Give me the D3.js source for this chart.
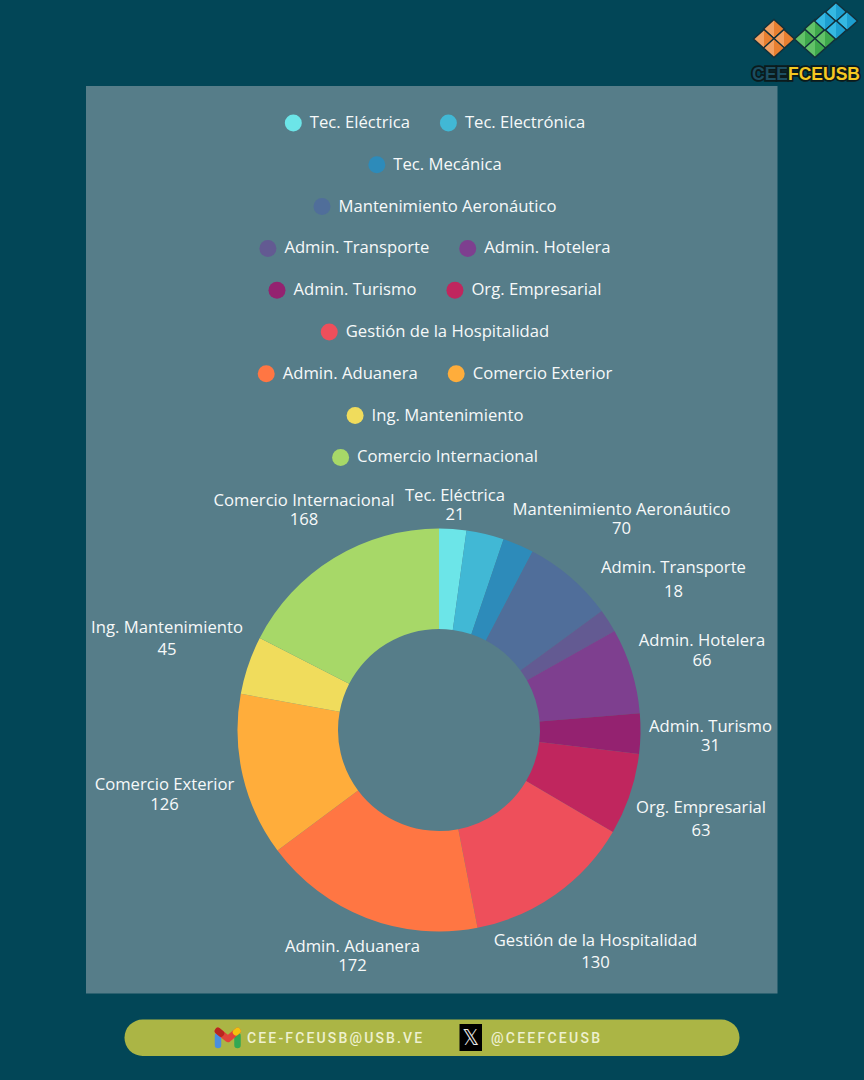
<!DOCTYPE html>
<html>
<head>
<meta charset="utf-8">
<script src="https://cdn.jsdelivr.net/npm/d3@7"></script>
<style>
  html, body { margin: 0; padding: 0; background: #024657; }
  svg { display: block; }
  text { font-family: "Open Sans", sans-serif; }
</style>
</head>
<body>
<div id="chart"></div>
<script>
const categories = ["Tec. Eléctrica", "Tec. Electrónica", "Tec. Mecánica", "Mantenimiento Aeronáutico",
  "Admin. Transporte", "Admin. Hotelera", "Admin. Turismo", "Org. Empresarial",
  "Gestión de la Hospitalidad", "Admin. Aduanera", "Comercio Exterior", "Ing. Mantenimiento", "Comercio Internacional"];
const values = [21, 29, 24, 70, 18, 66, 31, 63, 130, 172, 126, 45, 168];
const colors = ["#6ce5e8", "#41b8d5", "#2d8bba", "#506e9a", "#635a92", "#7e3f8f", "#942270", "#c0265e",
  "#ee4f5b", "#ff7643", "#ffad3b", "#f0dc5c", "#a7d868"];

// which categories share a legend row
const legendRows = [[0, 1], [2], [3], [4, 5], [6, 7], [8], [9, 10], [11], [12]];
// slices without a label in the original
const noLabel = [1, 2];
// label anchor points [x, first line y, second line y]
const labelPlace = {
  0: [455, 495, 514], 3: [621.5, 509, 528], 4: [673.5, 567, 591], 5: [702, 640, 660],
  6: [710.5, 726, 745], 7: [701, 807, 830], 8: [595.5, 940, 962], 9: [352.5, 946, 965],
  10: [164.5, 784, 804], 11: [167, 627, 649], 12: [304, 500, 519]
};

const width = 864;
const height = 1080;
const cx = 439;
const cy = 730;
const fontSize = 16.65;

const svg = d3.select("#chart").append("svg").attr("width", width).attr("height", height);

svg.append("rect").attr("width", width).attr("height", height).attr("fill", "#024657");
svg.append("rect").attr("x", 86).attr("y", 86).attr("width", 691.5).attr("height", 907.5).attr("fill", "#567d89");

// legend
const legendY = d3.scaleLinear().domain([0, 1]).range([123, 164.8]);
legendRows.forEach((row, r) => {
  const g = svg.append("g");
  let x = 0;
  row.forEach((i) => {
    g.append("circle").attr("cx", x + 8.5).attr("cy", legendY(r)).attr("r", 8.5).attr("fill", colors[i]);
    const t = g.append("text").attr("x", x + 25).attr("y", legendY(r) + 5)
      .attr("font-size", fontSize).attr("fill", "#f6f9f9").text(categories[i]);
    x += 25 + t.node().getComputedTextLength() + 30;
  });
  x -= 30;
  g.attr("transform", `translate(${435 - x / 2}, 0)`);
});

// donut
const pie = d3.pie().value((d) => d).sort(null);
const arc = d3.arc().innerRadius(101).outerRadius(201.5);
svg.append("g").attr("transform", `translate(${cx}, ${cy})`)
  .selectAll("path").data(pie(values)).enter().append("path")
  .attr("d", arc).attr("fill", (d, i) => colors[i]);

// slice labels
categories.forEach((c, i) => {
  if (noLabel.includes(i)) return;
  const p = labelPlace[i];
  svg.append("text").attr("x", p[0]).attr("y", p[1] + 5.5).attr("text-anchor", "middle")
    .attr("font-size", fontSize).attr("fill", "#f6f9f9").text(c);
  svg.append("text").attr("x", p[0]).attr("y", p[2] + 5.5).attr("text-anchor", "middle")
    .attr("font-size", fontSize).attr("fill", "#f6f9f9").text(values[i]);
});

// footer bar
svg.append("rect").attr("x", 124.5).attr("y", 1019.5).attr("width", 615).attr("height", 36.5).attr("rx", 18.2)
  .attr("fill", "#abb545");
svg.append("text").attr("x", 247).attr("y", 1043).style("font-family", "Roboto")
  .attr("font-size", 14).attr("font-weight", 500).attr("letter-spacing", 2.15).attr("fill", "#eef0cf").text("CEE-FCEUSB@USB.VE");
svg.append("text").attr("x", 491).attr("y", 1043).style("font-family", "Roboto")
  .attr("font-size", 14).attr("font-weight", 500).attr("letter-spacing", 2.25).attr("fill", "#eef0cf").text("@CEEFCEUSB");

// gmail icon
const gm = svg.append("g").attr("fill", "none").attr("stroke-width", 6.5)
  .attr("stroke-linecap", "round").attr("stroke-linejoin", "round");
gm.append("path").attr("d", "M218 1036 V1045").attr("stroke", "#4a8fe0");
gm.append("path").attr("d", "M237.5 1036 V1045").attr("stroke", "#33a853");
gm.append("path").attr("d", "M218 1031 L228 1039 L237.5 1031").attr("stroke", "#e0443a");
gm.append("path").attr("d", "M218 1031 L221 1033.5").attr("stroke", "#b8261f");
gm.append("path").attr("d", "M237.5 1031 L236 1032.2").attr("stroke", "#f4c20d");

// X icon
svg.append("rect").attr("x", 459.5).attr("y", 1024).attr("width", 22.5).attr("height", 27).attr("fill", "#000");
svg.append("text").attr("x", 470.8).attr("y", 1045).attr("text-anchor", "middle").style("font-family", "'DejaVu Sans'")
  .attr("font-size", 21).attr("fill", "#e8e8e8").text("𝕏");

// logo
const diamond = (x, y, c1, c2) => {
  const dg = svg.append("g").attr("transform", `translate(${x}, ${y})`);
  dg.append("path").attr("d", "M0 -9.5 L0 9.5 L-10.5 0 Z").attr("fill", c1);
  dg.append("path").attr("d", "M0 -9.5 L10.5 0 L0 9.5 Z").attr("fill", c2);
  dg.append("path").attr("d", "M0 -9.5 L10.5 0 L0 9.5 L-10.5 0 Z").attr("fill", "none")
    .attr("stroke", "#12303a").attr("stroke-width", 1.4);
};
const logoCells = [
  [774, 29, "#f2a062", "#e87f30"], [764, 39, "#f2a062", "#e87f30"], [784, 39, "#f2a062", "#e87f30"], [774, 48, "#f2a062", "#e87f30"],
  [815, 29, "#62c268", "#3ea84c"], [805, 39, "#62c268", "#3ea84c"], [825, 39, "#62c268", "#3ea84c"], [815, 48, "#62c268", "#3ea84c"],
  [836, 12, "#35b8e2", "#1d9fd0"], [825, 21, "#35b8e2", "#1d9fd0"], [847, 21, "#35b8e2", "#1d9fd0"], [836, 30, "#35b8e2", "#1d9fd0"]
];
logoCells.forEach((d) => diamond(d[0], d[1], d[2], d[3]));
svg.append("text").attr("x", 752).attr("y", 80).style("font-family", "'Liberation Sans'")
  .attr("font-size", 17.5).attr("font-weight", 700).attr("stroke", "#0b1a1c").attr("stroke-width", 3.5).attr("paint-order", "stroke")
  .attr("fill", "#1c4f62").text("CEE");
svg.append("text").attr("x", 788).attr("y", 80).style("font-family", "'Liberation Sans'")
  .attr("font-size", 17.5).attr("font-weight", 700).attr("stroke", "#0b1a1c").attr("stroke-width", 3.5).attr("paint-order", "stroke")
  .attr("fill", "#f5c821").text("FCEUSB");
</script>
</body>
</html>
